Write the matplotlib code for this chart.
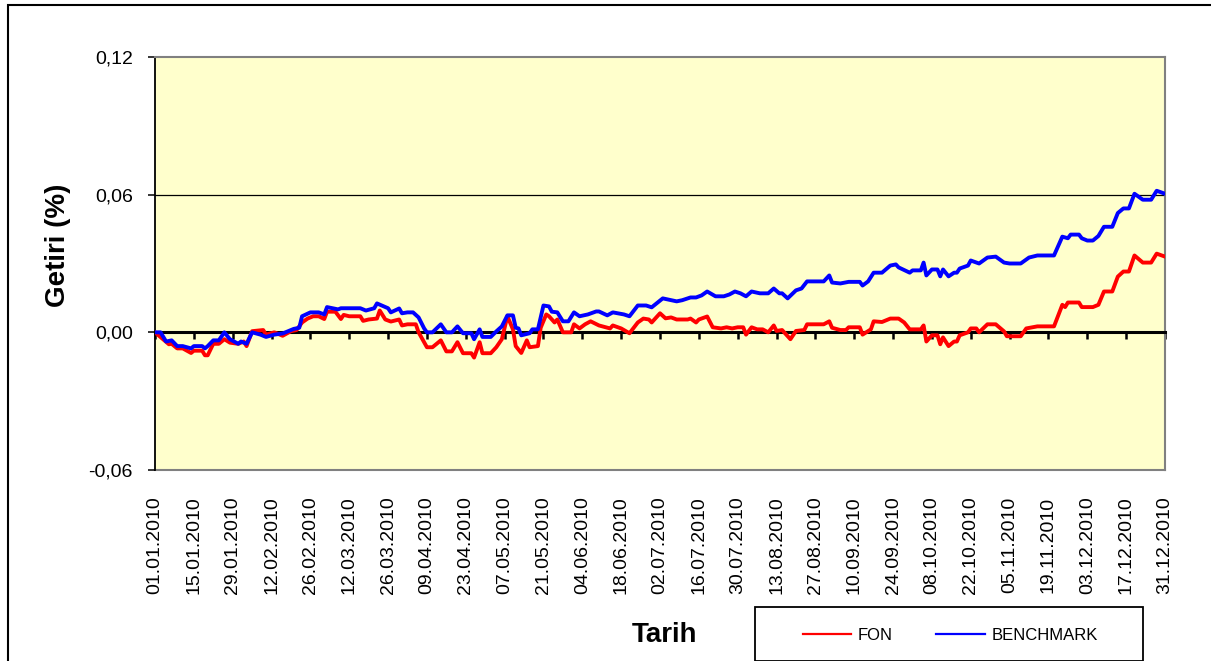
import datetime as dt

import matplotlib

matplotlib.use("Agg")
import matplotlib.pyplot as plt
from matplotlib.patches import Rectangle

plt.rcParams["font.family"] = ["Liberation Sans", "DejaVu Sans"]

# Gün ofseti (01.01.2010'dan itibaren) ve getiri değerleri.
fon_days = [
    0, 5, 6, 8, 10, 13, 14, 17, 18, 19, 21, 23, 25, 27, 30, 32, 33, 35, 39, 40,
    43, 46, 49, 51, 53, 55, 57, 59, 61, 62, 65, 67, 68, 70, 74, 75, 77, 80, 81, 83,
    85, 88, 89, 91, 94, 95, 97, 98, 100, 103, 105, 107, 109, 111, 114, 115, 117, 118, 121, 123,
    125, 127, 129, 130, 132, 134, 135, 138, 139, 141, 142, 144, 145, 147, 150, 151, 153, 155, 157, 160,
    164, 165, 168, 171, 174, 176, 178, 179, 182, 184, 186, 188, 192, 193, 195, 196, 199, 201, 204, 206,
    208, 210, 212, 213, 215, 217, 219, 221, 223, 224, 226, 229, 231, 234, 235, 241, 243, 244, 247, 249,
    250, 254, 255, 258, 259, 262, 265, 268, 270, 272, 276, 277, 278, 280, 282, 283, 284, 286, 288, 289,
    290, 293, 294, 296, 297, 300, 303, 306, 307, 312, 314, 318, 324, 327, 328, 329, 333, 334, 338, 340,
    342, 345, 347, 349, 351, 353, 356, 359, 361, 364,
]
fon_values = [
    0.0000, -0.0052, -0.0050, -0.0070, -0.0070, -0.0090, -0.0080, -0.0080, -0.0100, -0.0100,
    -0.0050, -0.0050, -0.0030, -0.0045, -0.0050, -0.0040, -0.0060, 0.0005, 0.0010, -0.0010,
    0.0000, -0.0015, 0.0005, 0.0010, 0.0043, 0.0060, 0.0070, 0.0070, 0.0058, 0.0090,
    0.0090, 0.0058, 0.0076, 0.0070, 0.0070, 0.0050, 0.0056, 0.0060, 0.0095, 0.0056,
    0.0047, 0.0056, 0.0030, 0.0035, 0.0035, 0.0000, -0.0043, -0.0065, -0.0065, -0.0035,
    -0.0083, -0.0083, -0.0043, -0.0091, -0.0091, -0.0110, -0.0043, -0.0091, -0.0091, -0.0065,
    -0.0030, 0.0070, 0.0013, -0.0060, -0.0090, -0.0035, -0.0065, -0.0060, 0.0020, 0.0078,
    0.0070, 0.0043, 0.0056, 0.0000, 0.0000, 0.0035, 0.0017, 0.0035, 0.0048, 0.0030,
    0.0017, 0.0030, 0.0017, -0.0004, 0.0043, 0.0060, 0.0056, 0.0043, 0.0083, 0.0061,
    0.0065, 0.0056, 0.0056, 0.0060, 0.0043, 0.0056, 0.0069, 0.0022, 0.0017, 0.0022,
    0.0017, 0.0022, 0.0022, -0.0010, 0.0022, 0.0013, 0.0013, 0.0000, 0.0030, 0.0006,
    0.0010, -0.0030, 0.0006, 0.0010, 0.0035, 0.0035, 0.0048, 0.0020, 0.0010, 0.0010,
    0.0022, 0.0022, -0.0010, 0.0013, 0.0048, 0.0045, 0.0060, 0.0060, 0.0043, 0.0013,
    0.0013, 0.0030, -0.0040, -0.0013, -0.0013, -0.0052, -0.0022, -0.0060, -0.0040, -0.0040,
    -0.0013, 0.0000, 0.0017, 0.0017, 0.0000, 0.0035, 0.0035, 0.0004, -0.0017, -0.0017,
    0.0017, 0.0026, 0.0026, 0.0120, 0.0110, 0.0130, 0.0130, 0.0110, 0.0110, 0.0120,
    0.0178, 0.0178, 0.0243, 0.0265, 0.0265, 0.0335, 0.0304, 0.0304, 0.0343, 0.0330,
]

benchmark_days = [
    0, 2, 4, 6, 8, 10, 13, 14, 17, 18, 19, 21, 23, 25, 27, 30, 31, 33, 35, 38,
    40, 43, 46, 50, 52, 53, 56, 59, 61, 62, 66, 67, 74, 76, 79, 80, 84, 85, 88, 89,
    91, 93, 95, 97, 98, 100, 103, 105, 107, 109, 111, 114, 115, 117, 118, 121, 123, 125, 127, 129,
    130, 131, 132, 135, 136, 138, 140, 142, 143, 145, 147, 149, 151, 153, 156, 159, 160, 163, 165, 169,
    171, 174, 177, 179, 183, 186, 188, 190, 193, 195, 197, 199, 202, 205, 207, 209, 211, 213, 215, 218,
    221, 223, 225, 226, 228, 231, 233, 235, 237, 241, 243, 244, 247, 250, 254, 255, 257, 259, 262, 265,
    267, 268, 272, 273, 276, 277, 278, 280, 282, 283, 284, 286, 288, 289, 290, 293, 294, 297, 300, 303,
    306, 308, 312, 315, 318, 324, 327, 329, 330, 333, 334, 336, 338, 340, 342, 345, 347, 349, 351, 353,
    356, 359, 361, 364,
]
benchmark_values = [
    0.0000, 0.0000, -0.0040, -0.0035, -0.0060, -0.0060, -0.0070, -0.0060, -0.0060, -0.0070,
    -0.0060, -0.0035, -0.0035, 0.0000, -0.0030, -0.0050, -0.0040, -0.0050, 0.0000, -0.0010,
    -0.0020, -0.0010, -0.0005, 0.0015, 0.0020, 0.0070, 0.0087, 0.0087, 0.0078, 0.0110,
    0.0100, 0.0105, 0.0105, 0.0095, 0.0105, 0.0126, 0.0105, 0.0087, 0.0104, 0.0083,
    0.0087, 0.0087, 0.0065, 0.0017, 0.0000, 0.0000, 0.0035, 0.0000, 0.0000, 0.0026,
    -0.0004, -0.0004, -0.0030, 0.0013, -0.0020, -0.0020, 0.0004, 0.0026, 0.0074, 0.0074,
    0.0020, 0.0017, -0.0013, -0.0004, 0.0013, 0.0013, 0.0117, 0.0113, 0.0090, 0.0087,
    0.0048, 0.0048, 0.0087, 0.0070, 0.0078, 0.0091, 0.0091, 0.0074, 0.0087, 0.0078,
    0.0070, 0.0117, 0.0117, 0.0109, 0.0148, 0.0140, 0.0135, 0.0140, 0.0152, 0.0152,
    0.0161, 0.0178, 0.0157, 0.0157, 0.0165, 0.0178, 0.0170, 0.0157, 0.0178, 0.0170,
    0.0170, 0.0191, 0.0170, 0.0170, 0.0148, 0.0183, 0.0191, 0.0222, 0.0222, 0.0222,
    0.0248, 0.0217, 0.0213, 0.0220, 0.0220, 0.0204, 0.0222, 0.0260, 0.0260, 0.0291,
    0.0296, 0.0283, 0.0260, 0.0270, 0.0270, 0.0304, 0.0248, 0.0274, 0.0274, 0.0244,
    0.0274, 0.0244, 0.0260, 0.0260, 0.0278, 0.0291, 0.0313, 0.0300, 0.0326, 0.0330,
    0.0304, 0.0300, 0.0300, 0.0326, 0.0335, 0.0335, 0.0417, 0.0410, 0.0426, 0.0426,
    0.0410, 0.0400, 0.0400, 0.0420, 0.0460, 0.0460, 0.0520, 0.0540, 0.0540, 0.0604,
    0.0578, 0.0578, 0.0617, 0.0604,
]

start_date = dt.date(2010, 1, 1)
tick_days = list(range(0, 365, 14))
tick_labels = [(start_date + dt.timedelta(days=d)).strftime("%d.%m.%Y") for d in tick_days]
y_ticks = [-0.06, 0.0, 0.06, 0.12]
y_tick_labels = ["-0,06", "0,00", "0,06", "0,12"]

W, H = 1211, 661
fig = plt.figure(figsize=(W / 100, H / 100), dpi=100)
ax = fig.add_axes([155 / W, 1 - 470 / H, (1165 - 155) / W, (470 - 57) / H])
ax.set_facecolor("#FFFFCC")

ax.plot(fon_days, fon_values, color="#FF0000", lw=2.8, label="FON", zorder=3, solid_joinstyle="round")
ax.plot(benchmark_days, benchmark_values, color="#0000FF", lw=2.8, label="BENCHMARK", zorder=3,
        solid_joinstyle="round")

ax.set_xlim(0, 364)
ax.set_ylim(-0.06, 0.12)
ax.axhline(0.06, color="black", lw=0.9, zorder=1)

# zero axis with tick marks (Excel-style category axis crossing at 0)
ax.spines["bottom"].set_position(("data", 0))
ax.spines["bottom"].set_linewidth(2.2)
ax.spines["bottom"].set_color("black")
ax.set_xticks(tick_days)
ax.tick_params(axis="x", direction="out", length=5, width=1.8, color="black", labelbottom=False)

for side in ("top", "right"):
    ax.spines[side].set_color("#808080")
    ax.spines[side].set_linewidth(1.5)
ax.spines["left"].set_color("black")
ax.spines["left"].set_linewidth(1.3)

ax.set_yticks(y_ticks, y_tick_labels)
ax.tick_params(axis="y", direction="out", length=5, width=1.1, pad=11, labelsize=14)

sec = ax.secondary_xaxis("bottom")
sec.set_xticks(tick_days, tick_labels, rotation=90)
sec.tick_params(length=0, pad=19, labelsize=14)
sec.spines["bottom"].set_color("#808080")
sec.spines["bottom"].set_linewidth(1.5)

fig.text(58 / W, 1 - 245 / H, "Getiri (%)", rotation=90, ha="center", va="center",
         fontsize=20, fontweight="bold")
fig.text(664 / W, 1 - 635 / H, "Tarih", ha="center", va="center", fontsize=20, fontweight="bold")

# legend box
fig.patches.append(Rectangle((755 / W, 1 - 661 / H), (1143 - 755) / W, (661 - 607) / H,
                             transform=fig.transFigure, fill=False, ec="black", lw=1.3))
leg = fig.legend(loc="center left", bbox_to_anchor=(803 / W, 1 - 635 / H), ncol=2, frameon=False,
                 fontsize=12, handlelength=2.9, handletextpad=0.4, columnspacing=2.6,
                 borderpad=0, borderaxespad=0)
for handle in leg.get_lines():
    handle.set_linewidth(1.6)

# outer chart frame
fig.patches.append(Rectangle((8 / W, -0.02), 1.0, 1 - 5 / H + 0.02, transform=fig.transFigure,
                             fill=False, ec="black", lw=1.5))

fig.savefig("out.png", dpi=100)
